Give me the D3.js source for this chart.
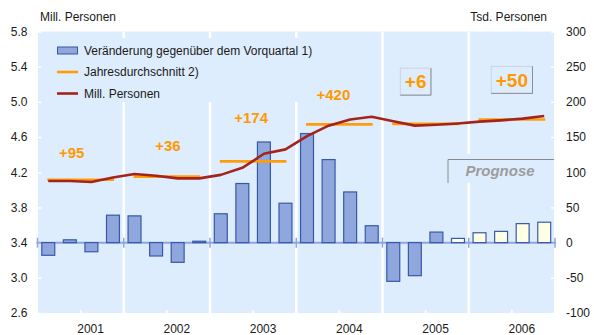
<!DOCTYPE html>
<html>
<head>
<meta charset="utf-8">
<script src="https://cdn.jsdelivr.net/npm/d3@7"></script>
<style>
  html, body { margin: 0; padding: 0; background: #ffffff; }
  svg { display: block; font-family: "Liberation Sans", Arial, sans-serif; }
</style>
</head>
<body>
<svg id="chart" width="594" height="335"></svg>
<script>
// Erwerbstätige: Quartalsveränderung, Jahresdurchschnitt und Niveau
const years = ["2001", "2002", "2003", "2004", "2005", "2006"];
const quarters = years.flatMap(y => ["Q1", "Q2", "Q3", "Q4"].map(q => y + q));

// Veränderung gegenüber dem Vorquartal (Tsd. Personen)
const quarterlyChange = [
  -18, 4, -13, 39,
  38, -19, -28, 2,
  41, 84, 143, 56,
  155, 118, 72, 24,
  -55, -47, 15, 6,
  14, 16, 27, 29
];
// Quartale ab 2005Q4 sind Prognosewerte
const forecastFrom = "2005Q4";

// Niveau (Mill. Personen)
const level = [
  4.10, 4.10, 4.09, 4.14,
  4.18, 4.16, 4.13, 4.13,
  4.17, 4.25, 4.41, 4.46,
  4.61, 4.73, 4.80, 4.83,
  4.78, 4.73, 4.74, 4.755,
  4.775, 4.79, 4.81, 4.84
];

// Veränderung des Jahresdurchschnitts (Tsd. Personen)
const annualChange = [95, 36, 174, 420, 6, 50];
const avg2001 = 4.114;
// Jahresdurchschnitt (Mill. Personen), fortgeschrieben aus den Veränderungen
const annualAvg = annualChange.reduce((acc, c, i) => {
  acc.push(i === 0 ? avg2001 : acc[i - 1] + c / 1000);
  return acc;
}, []);

const leftTicks = [2.6, 3.0, 3.4, 3.8, 4.2, 4.6, 5.0, 5.4, 5.8];
const rightTicks = [-100, -50, 0, 50, 100, 150, 200, 250, 300];

// Beschriftungsplatzierung der Jahresveränderungen
const labelLayout = [
  { dx: -9, y: 4.42, boxed: false },
  { dx: 1, y: 4.50, boxed: false },
  { dx: -2, y: 4.82, boxed: false },
  { dx: -6, y: 5.08, boxed: false },
  { dx: -10, y: 5.23, boxed: true },
  { dx: 0, y: 5.25, boxed: true }
];

const svg = d3.select("#chart");
const plot = { left: 37.5, right: 555, top: 31.5, bottom: 313 };
const bg = "#deedfd";

const x = d3.scaleBand().domain(quarters).range([plot.left, plot.right])
  .paddingInner(0.4).paddingOuter(0.2);
const xYear = d3.scaleBand().domain(years).range([plot.left, plot.right]);
const yL = d3.scaleLinear().domain([2.6, 5.8]).range([plot.bottom, plot.top]);
const yR = d3.scaleLinear().domain([-100, 300]).range([plot.bottom, plot.top]);
const xc = q => x(q) + x.bandwidth() / 2;

// Hintergrund
svg.append("rect")
  .attr("x", plot.left + 0.5).attr("y", plot.top)
  .attr("width", plot.right - plot.left - 1.5).attr("height", plot.bottom - plot.top)
  .attr("fill", bg);

// Jahrestrennlinien
svg.append("g").selectAll("line")
  .data(years.slice(1))
  .join("line")
  .attr("x1", d => xYear(d)).attr("x2", d => xYear(d))
  .attr("y1", plot.top).attr("y2", plot.bottom)
  .attr("stroke", "#ffffff").attr("stroke-width", 2.5);

// kleine Markierungen der Jahresmitte am unteren Rand
svg.append("g").selectAll("line")
  .data(years)
  .join("line")
  .attr("x1", d => xYear(d) + xYear.bandwidth() / 2)
  .attr("x2", d => xYear(d) + xYear.bandwidth() / 2)
  .attr("y1", plot.bottom - 3).attr("y2", plot.bottom)
  .attr("stroke", "#ffffff").attr("stroke-width", 1.5);

// Achsen
const hyphenInt = d => String(Math.round(d));
const axisL = d3.axisLeft(yL).tickValues(leftTicks).tickFormat(d => d.toFixed(1))
  .tickSizeInner(-4).tickSizeOuter(0).tickPadding(10);
const gL = svg.append("g").attr("transform", `translate(${plot.left},0)`).call(axisL);
const axisR = d3.axisRight(yR).tickValues(rightTicks).tickFormat(hyphenInt)
  .tickSizeInner(-4).tickSizeOuter(0).tickPadding(11);
const gR = svg.append("g").attr("transform", `translate(${plot.right},0)`).call(axisR);
[gL, gR].forEach(g => {
  g.select(".domain").remove();
  g.selectAll(".tick line").attr("stroke", "#ffffff").attr("stroke-width", 1.5);
  g.selectAll(".tick text").attr("font-size", 12).attr("fill", "#1a1a1a")
    .attr("font-family", "'Liberation Sans', Arial, sans-serif");
});

// Jahresbeschriftung
svg.append("g").selectAll("text")
  .data(years)
  .join("text")
  .attr("x", d => xYear(d) + xYear.bandwidth() / 2 + 10)
  .attr("y", 333)
  .attr("text-anchor", "middle")
  .attr("font-size", 12).attr("fill", "#1a1a1a")
  .text(d => d);

// Achsentitel
svg.append("text").attr("x", 40).attr("y", 21).attr("font-size", 12)
  .attr("fill", "#1a1a1a").text("Mill. Personen");
svg.append("text").attr("x", 547).attr("y", 21).attr("font-size", 12)
  .attr("text-anchor", "end").attr("fill", "#1a1a1a").text("Tsd. Personen");

// Legende (Hintergrundfläche unterbricht die Trennlinien)
const lg = svg.append("g");
lg.append("rect").attr("x", 41).attr("y", 38).attr("width", 276).attr("height", 64)
  .attr("fill", bg);
const items = [
  { type: "bar", label: "Veränderung gegenüber dem Vorquartal 1)" },
  { type: "avg", label: "Jahresdurchschnitt 2)" },
  { type: "level", label: "Mill. Personen" }
];
items.forEach((it, i) => {
  const cy = 50.5 + i * 21.5;
  if (it.type === "bar") {
    lg.append("rect").attr("x", 57.5).attr("y", cy - 3.5).attr("width", 20).attr("height", 7)
      .attr("fill", "#8fa7dc").attr("stroke", "#3759aa").attr("stroke-width", 1);
  } else {
    lg.append("line").attr("x1", 57).attr("x2", 78).attr("y1", cy).attr("y2", cy)
      .attr("stroke", it.type === "avg" ? "#ff9c0a" : "#a3241b").attr("stroke-width", 2.6);
  }
  lg.append("text").attr("x", 84).attr("y", cy).attr("dy", "0.36em")
    .attr("font-size", 12).attr("fill", "#1a1a1a").text(it.label);
});

// Nulllinie mit Jahresmarken
const y0 = yR(0);
svg.append("line").attr("x1", plot.left - 1).attr("x2", plot.right + 1)
  .attr("y1", y0).attr("y2", y0)
  .attr("stroke", "#8ea6dc").attr("stroke-width", 2);
svg.append("g").selectAll("line")
  .data(years.concat(["end"]))
  .join("line")
  .attr("x1", d => d === "end" ? plot.right : xYear(d))
  .attr("x2", d => d === "end" ? plot.right : xYear(d))
  .attr("y1", y0 - 5).attr("y2", y0 + 5)
  .attr("stroke", "#8ea6dc").attr("stroke-width", 1.5);

// Balken: Veränderung gegenüber dem Vorquartal
const forecastIdx = quarters.indexOf(forecastFrom);
svg.append("g").selectAll("rect")
  .data(quarters.map((q, i) => ({ q, v: quarterlyChange[i], f: i >= forecastIdx })))
  .join("rect")
  .attr("x", d => x(d.q))
  .attr("width", x.bandwidth())
  .attr("y", d => Math.min(yR(d.v), y0))
  .attr("height", d => Math.abs(yR(d.v) - y0))
  .attr("fill", d => d.f ? "#ffffe4" : "#8fa7dc")
  .attr("stroke", "#3759aa").attr("stroke-width", 1.2);

// Jahresdurchschnitt
svg.append("g").selectAll("line")
  .data(years.map((y, i) => ({ y, v: annualAvg[i] })))
  .join("line")
  .attr("x1", d => xc(d.y + "Q1") - 1)
  .attr("x2", d => xc(d.y + "Q4") + 1)
  .attr("y1", d => yL(d.v)).attr("y2", d => yL(d.v))
  .attr("stroke", "#ff9c0a").attr("stroke-width", 2.6);

// Niveau
svg.append("path")
  .datum(quarters.map((q, i) => [xc(q), yL(level[i])]))
  .attr("d", d3.line())
  .attr("fill", "none").attr("stroke", "#a3241b").attr("stroke-width", 2.6)
  .attr("stroke-linejoin", "round");

// Veränderung des Jahresdurchschnitts
years.forEach((y, i) => {
  const lay = labelLayout[i];
  const cx = xYear(y) + xYear.bandwidth() / 2 + lay.dx;
  const cy = yL(lay.y);
  const g = svg.append("g");
  const t = g.append("text")
    .attr("x", cx).attr("y", cy).attr("dy", "0.36em")
    .attr("text-anchor", "middle")
    .attr("font-size", lay.boxed ? 19 : 15).attr("font-weight", "bold")
    .attr("fill", "#ff9900")
    .text("+" + annualChange[i]);
  if (lay.boxed) {
    const w = t.node().getComputedTextLength() + 9;
    const h = 27;
    const bx = cx - w / 2, by = cy - h / 2;
    g.insert("rect", "text")
      .attr("x", bx).attr("y", by).attr("width", w).attr("height", h)
      .attr("fill", bg).attr("stroke", "#c8d2e6").attr("stroke-width", 1);
    g.append("path")
      .attr("d", `M${bx + w},${by}V${by + h}H${bx}`)
      .attr("fill", "none").attr("stroke", "#8a8e96").attr("stroke-width", 1);
  }
});

// Prognose-Kennzeichnung
const pg = svg.append("g");
pg.append("rect").attr("x", 447).attr("y", 154).attr("width", plot.right - 448)
  .attr("height", 29).attr("fill", bg);
pg.append("path").attr("d", `M448,183V159.5H${plot.right - 1}`)
  .attr("fill", "none").attr("stroke", "#8a8a8a").attr("stroke-width", 1);
pg.append("text").attr("x", 500).attr("y", 171).attr("dy", "0.35em")
  .attr("text-anchor", "middle").attr("font-size", 15)
  .attr("font-weight", "bold").attr("font-style", "italic")
  .attr("fill", "#9c9c9c").text("Prognose");
</script>
</body>
</html>
